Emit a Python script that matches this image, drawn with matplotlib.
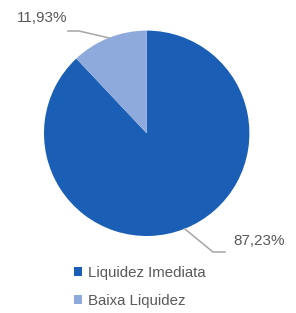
import numpy as np
import matplotlib.pyplot as plt
from matplotlib.patches import Patch

plt.rcParams['font.family'] = ['Liberation Sans', 'DejaVu Sans']

categorias = ['Liquidez Imediata', 'Baixa Liquidez']
valores = [87.23, 11.93]
rotulos = ['87,23%', '11,93%']
cores = ['#1B5EB5', '#8EA9DB']
cor_texto = '#595959'
cor_linha = '#A6A6A6'

W, H = 296, 313
fig = plt.figure(figsize=(W / 100, H / 100), dpi=100)
ax = fig.add_axes([0, 0, 1, 1])
ax.set_xlim(0, W)
ax.set_ylim(0, H)
ax.set_aspect('equal')
ax.axis('off')

cx, cy, r = 146.7, H - 133.3, 102.7
wedges, _ = ax.pie(valores, colors=cores, startangle=90, counterclock=False,
                   radius=r, center=(cx, cy), frame=True,
                   wedgeprops=dict(linewidth=0))
ax.set_xlim(0, W)
ax.set_ylim(0, H)
ax.axis('off')

# leader lines start at the middle of each wedge's rim
pos_texto = [(233, H - 241), (67, H - 18)]
cotovelo = [[(213, H - 252), (225, H - 252)], [(79, H - 31), (68, H - 31)]]
alinh = ['left', 'right']
for w, txt, (tx, ty), cot, ha in zip(wedges, rotulos, pos_texto, cotovelo, alinh):
    ang = np.deg2rad((w.theta1 + w.theta2) / 2)
    x0, y0 = cx + r * np.cos(ang), cy + r * np.sin(ang)
    xs = [x0] + [p[0] for p in cot]
    ys = [y0] + [p[1] for p in cot]
    ax.plot(xs, ys, color=cor_linha, lw=1.1)
    ax.text(tx, ty, txt, ha=ha, va='center', fontsize=11, color=cor_texto)

handles = [Patch(facecolor=c, edgecolor='none') for c in cores]
leg = ax.legend(handles, categorias, loc='upper left',
                bbox_to_anchor=(74 / W, 1 - 266 / H), frameon=False,
                fontsize=10.8, handlelength=0.55, handleheight=0.55,
                handletextpad=0.35, labelspacing=0.95, borderpad=0,
                borderaxespad=0)
for t in leg.get_texts():
    t.set_color(cor_texto)

fig.savefig('out.png', dpi=100)
